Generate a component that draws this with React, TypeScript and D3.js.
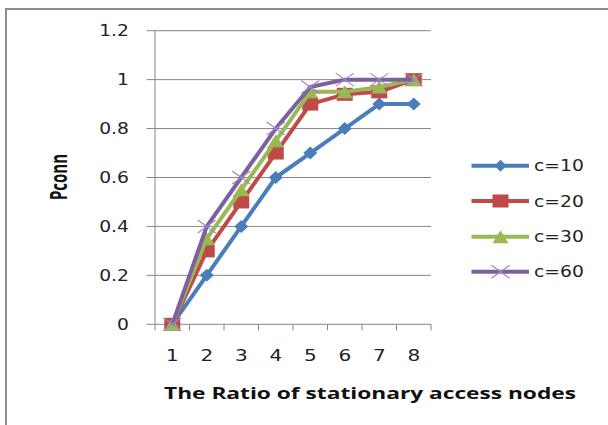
import React from "react";
import * as d3 from "d3";

const categories = ["1", "2", "3", "4", "5", "6", "7", "8"];
const yTicks = [0, 0.2, 0.4, 0.6, 0.8, 1, 1.2];
const yTickLabels = ["0", "0.2", "0.4", "0.6", "0.8", "1", "1.2"];
const seriesNames = ["c=10", "c=20", "c=30", "c=60"];
const c10 = [0, 0.2, 0.4, 0.6, 0.7, 0.8, 0.9, 0.9];
const c20 = [0, 0.3, 0.5, 0.7, 0.9, 0.94, 0.95, 1.0];
const c30 = [0, 0.35, 0.55, 0.75, 0.95, 0.95, 0.97, 1.0];
const c60 = [0, 0.4, 0.6, 0.8, 0.97, 1.0, 1.0, 1.0];
const seriesValues = [c10, c20, c30, c60];
const colors = ["#4a7ebb", "#be4b48", "#98b954", "#7d60a0"];
const markers = ["diamond", "square", "triangle", "x"];

const W = 608;
const H = 425;
const plotLeft = 155;
const plotRight = 431;
const plotTop = 30.7;
const plotBottom = 324.3;
const SX = 1.25;

function Marker({ kind, x, y, color, legend }: { kind: string; x: number; y: number; color: string; legend?: boolean }) {
  if (kind === "diamond") {
    const hw = legend ? 6 : 7;
    const hh = legend ? 6 : 6.5;
    return <path d={`M${x - hw},${y}L${x},${y - hh}L${x + hw},${y}L${x},${y + hh}Z`} fill={color} />;
  }
  if (kind === "square") {
    const hw = 8, hh = 6.5;
    return <rect x={x - hw} y={y - hh} width={hw * 2} height={hh * 2} fill={color} />;
  }
  if (kind === "triangle") {
    const hw = 8, hh = 6.5;
    return <path d={`M${x - hw},${y + hh}L${x},${y - hh}L${x + hw},${y + hh}Z`} fill={color} />;
  }
  const hw = 9, hh = 6.5;
  return (
    <path
      d={`M${x - hw},${y - hh}L${x + hw},${y + hh}M${x - hw},${y + hh}L${x + hw},${y - hh}`}
      stroke="#9c87c4"
      strokeWidth={1.2}
      fill="none"
    />
  );
}

export default function App() {
  const x = d3.scaleBand<string>().domain(categories).range([plotLeft, plotRight]);
  const y = d3.scaleLinear().domain([0, 1.2]).range([plotBottom, plotTop]);
  const cx = (i: number) => (x(categories[i]) as number) + x.bandwidth() / 2;
  const line = d3
    .line<number>()
    .x((_, i) => cx(i))
    .y((d) => y(d));
  const grid = "#868686";
  const font = "'DejaVu Sans', Verdana, sans-serif";
  const legendRows = [165.7, 201, 236.7, 271.7];

  return (
    <svg width={W} height={H} style={{ position: "absolute", left: 0, top: 0, background: "#fff" }}>
      <rect x={0} y={0} width={W} height={H} fill="#fff" />
      <rect x={6} y={9} width={700} height={600} fill="none" stroke="#8e8e8e" strokeWidth={2} />
      {/* gridlines */}
      {yTicks.map((t, i) => (
        <line key={i} x1={146.5} x2={plotRight} y1={y(t)} y2={y(t)} stroke={grid} strokeWidth={1} />
      ))}
      {/* y axis */}
      <line x1={plotLeft} x2={plotLeft} y1={plotTop} y2={plotBottom + 6} stroke={grid} strokeWidth={1} />
      {/* x ticks */}
      {categories.map((c, i) => {
        const tx = (x(c) as number) + x.bandwidth();
        return <line key={c} x1={tx} x2={tx} y1={plotBottom} y2={plotBottom + 6} stroke={grid} strokeWidth={1} />;
      })}
      {/* y tick labels */}
      {yTicks.map((t, i) => (
        <g key={i} transform={`translate(129,${y(t) + 5.3}) scale(${SX},1)`}>
          <text textAnchor="end" fontFamily={font} fontSize={15} fill="#222">
            {yTickLabels[i]}
          </text>
        </g>
      ))}
      {/* x tick labels */}
      {categories.map((c, i) => (
        <g key={c} transform={`translate(${cx(i)},361) scale(${SX},1)`}>
          <text textAnchor="middle" fontFamily={font} fontSize={16} fill="#222">
            {c}
          </text>
        </g>
      ))}
      {/* series */}
      {seriesValues.map((vals, s) => (
        <g key={s}>
          <path d={line(vals) as string} fill="none" stroke={colors[s]} strokeWidth={4} strokeLinejoin="round" />
          {vals.map((v, i) => (
            <Marker key={i} kind={markers[s]} x={cx(i)} y={y(v)} color={colors[s]} />
          ))}
        </g>
      ))}
      {/* legend */}
      {seriesNames.map((n, s) => (
        <g key={n}>
          <line x1={471.5} x2={529} y1={legendRows[s]} y2={legendRows[s]} stroke={colors[s]} strokeWidth={4} />
          <Marker kind={markers[s]} x={500.5} y={legendRows[s]} color={colors[s]} legend />
          <g transform={`translate(534,${legendRows[s] + 5.5}) scale(${SX},1)`}>
            <text fontFamily={font} fontSize={15} fill="#222">
              {n}
            </text>
          </g>
        </g>
      ))}
      {/* axis titles */}
      <text
        x={370}
        y={399}
        textAnchor="middle"
        fontFamily="'Open Sans', sans-serif"
        fontWeight={700}
        fontSize={16}
        textLength={412}
        lengthAdjust="spacingAndGlyphs"
        fill="#111"
      >
        The Ratio of stationary access nodes
      </text>
      <g transform={`translate(67,177) scale(1.6,1) rotate(-90)`}>
        <text textAnchor="middle" fontFamily="'Open Sans', sans-serif" fontWeight={700} fontSize={15} fill="#111">
          Pconn
        </text>
      </g>
    </svg>
  );
}
